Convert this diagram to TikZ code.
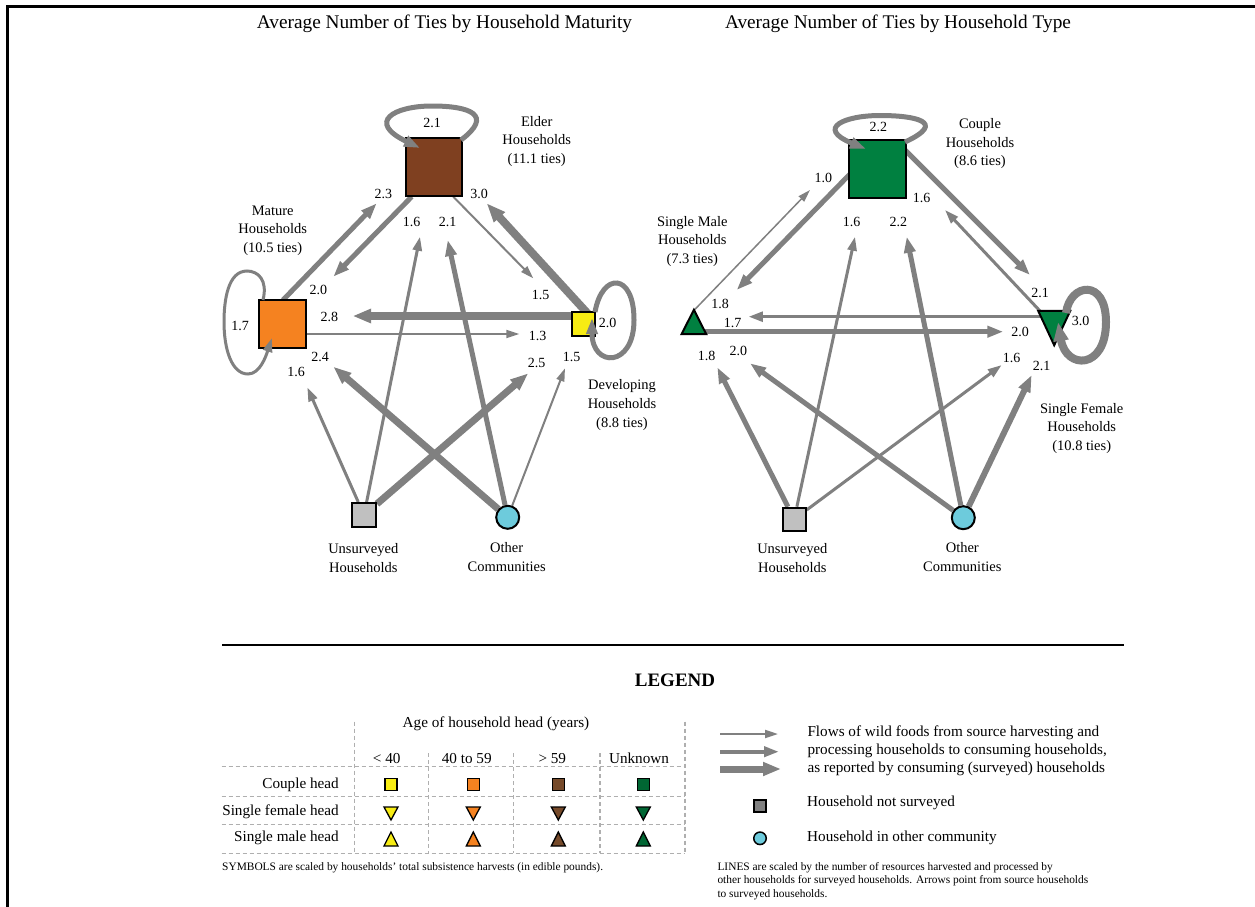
\documentclass[tikz,border=0pt]{standalone}
\usepackage{fontspec}
\setmainfont{Liberation Serif}
\usetikzlibrary{arrows.meta}
\definecolor{eg}{RGB}{128,128,128}
\definecolor{lg}{RGB}{175,175,175}
\definecolor{cBrown}{RGB}{127,64,32}
\definecolor{cOrange}{RGB}{245,130,32}
\definecolor{cYel}{RGB}{247,236,19}
\definecolor{cGreen}{RGB}{0,128,64}
\definecolor{cGray}{RGB}{192,192,192}
\definecolor{cCyan}{RGB}{109,203,220}
\definecolor{lBrown}{RGB}{118,74,42}
\definecolor{lGreen}{RGB}{0,102,51}
\definecolor{lGray}{RGB}{128,128,128}
\pgfdeclarelayer{bg}
\pgfdeclarelayer{paper}
\pgfsetlayers{paper,bg,main}
\begin{document}
\begin{tikzpicture}[x=1pt,y=-1pt,
  flow/.style={draw=eg, line width=#1, -{Triangle[length=11pt 1,width=6pt 1]}},
  num/.style={inner sep=0pt, font=\fontsize{14}{16}\selectfont},
  grp/.style={inner sep=0pt, align=center, font=\fontsize{14.5}{18.7}\selectfont},
  hsq/.style={draw=black, line width=2pt, inner sep=0pt},
  leg/.style={inner sep=0pt, font=\fontsize{15.2}{18.2}\selectfont},
  note/.style={inner sep=0pt, font=\fontsize{11.4}{13.4}\selectfont, align=left},
  dsh/.style={draw=lg, line width=1.5pt, dash pattern=on 4pt off 3pt},
  ttl/.style={inner sep=0pt, font=\fontsize{19.3}{22}\selectfont},
  pics/lsq/.style={code={\filldraw[fill=#1,line width=1.3pt] (-6,-6) rectangle (6,6);}},
  pics/ltd/.style={code={\filldraw[fill=#1,line width=1.3pt] (-7,-6) -- (7,-6) -- (0,7) -- cycle;}},
  pics/ltu/.style={code={\filldraw[fill=#1,line width=1.3pt] (-7,7) -- (7,7) -- (0,-7) -- cycle;}},
]
\useasboundingbox (0,0) rectangle (1255,907);
\begin{pgfonlayer}{paper}
\fill[white] (0,0) rectangle (1255,907);
\end{pgfonlayer}
% frame
\draw[line width=3pt] (7.5,910) -- (7.5,6.5) -- (1260,6.5);

% titles
\node[ttl] (t1) at (444.5,24) {Average Number of Ties by Household Maturity};
\node[ttl] (t2) at (898,24) {Average Number of Ties by Household Type};

%================ LEFT DIAGRAM ================
\node[hsq, fill=cBrown, minimum width=56pt, minimum height=58pt] (eld) at (433.5,167) {};
\node[hsq, fill=cOrange, minimum width=47pt, minimum height=48pt] (mat) at (282.5,324) {};
\node[hsq, fill=cYel, minimum width=23.3pt, minimum height=24pt] (dev) at (583.3,323.7) {};
\node[hsq, fill=cGray, minimum size=24pt] (uns) at (364,515) {};
\node[circle, draw=black, line width=2pt, fill=cCyan, minimum size=23pt, inner sep=0pt] (oth) at (507.7,517.3) {};

\node[grp] (gEld) at (536.7,141.5) {Elder\\Households\\(11.1 ties)};
\node[grp] (gMat) at (272.7,230.5) {Mature\\Households\\(10.5 ties)};
\node[grp] (gDev) at (622,405) {Developing\\Households\\(8.8 ties)};
\node[grp] (gUns) at (363.3,558) {Unsurveyed\\Households};
\node[grp] (gOth) at (506.7,557) {Other\\Communities};

\node[num] (n1) at (432,123) {2.1};
\node[num] (n2) at (383.3,194.3) {2.3};
\node[num] (n3) at (479,194.3) {3.0};
\node[num] (n4) at (411.7,221.7) {1.6};
\node[num] (n5) at (447.7,221.7) {2.1};
\node[num] (n6) at (318.3,290) {2.0};
\node[num] (n7) at (240,325.7) {1.7};
\node[num] (n8) at (329.3,316.7) {2.8};
\node[num] (n9) at (537.7,335.7) {1.3};
\node[num] (n10) at (540.7,295) {1.5};
\node[num] (n11) at (607.7,323.3) {2.0};
\node[num] (n12) at (320,357.3) {2.4};
\node[num] (n13) at (296,371.7) {1.6};
\node[num] (n14) at (536.7,363.3) {2.5};
\node[num] (n15) at (571.7,357.3) {1.5};

\coordinate (a1) at (307.3,387.3);
\coordinate (a2) at (420,236.7);
\coordinate (a3) at (528.3,373.3);
\coordinate (a4) at (333.3,366.7);
\coordinate (a5) at (447.7,240);
\coordinate (a6) at (565,368.3);
\coordinate (s7) at (583,316);   \coordinate (a7) at (352.7,316);
\coordinate (s8) at (290,334);   \coordinate (a8) at (519.3,334);
\coordinate (s9) at (411.7,196.7); \coordinate (a9) at (333.3,276.7);
\coordinate (s10) at (283,300);  \coordinate (a10) at (376.7,203.3);
\coordinate (s11) at (453.3,196.7); \coordinate (a11) at (533.3,278.3);
\coordinate (s12) at (590,316);  \coordinate (a12) at (486.7,203.3);

\begin{pgfonlayer}{bg}
\draw[flow=3pt] (uns) -- (a1);
\draw[flow=3pt] (uns) -- (a2);
\draw[flow=7pt] (uns) -- (a3);
\draw[flow=7pt] (oth) -- (a4);
\draw[flow=5pt] (oth) -- (a5);
\draw[flow=2pt] (oth) -- (a6);
\draw[flow=7.5pt] (s7) -- (a7);
\draw[flow=2pt] (s8) -- (a8);
\draw[flow=5pt] (s9) -- (a9);
\draw[flow=5pt] (s10) -- (a10);
\draw[flow=2pt] (s11) -- (a11);
\draw[flow=8pt] (s12) -- (a12);
\end{pgfonlayer}

% loops
\draw[flow=5pt] (461,140) .. controls (494,115) and (470,106) .. (432,106) .. controls (394,106) and (366,122) .. (420,148);
\draw[flow=3pt] (263,300) .. controls (268,280) and (258,271) .. (247,271) .. controls (228,271) and (224,300) .. (224,322) .. controls (224,350) and (232,374) .. (248,374) .. controls (260,374) and (266,356) .. (272,338);
\draw[flow=5pt] (595,312) .. controls (602,272) and (634,272) .. (634,320) .. controls (634,368) and (592,368) .. (592,318);

%================ RIGHT DIAGRAM ================
\node[hsq, fill=cGreen, minimum width=56.4pt, minimum height=57.7pt] (cpl) at (877.5,169) {};
\node[hsq, fill=cGray, minimum size=23pt] (uns2) at (794.2,519.2) {};
\node[circle, draw=black, line width=2pt, fill=cCyan, minimum size=23pt, inner sep=0pt] (oth2) at (963.3,517.7) {};
\node[inner sep=0pt, minimum width=24.3pt, minimum height=24pt] (male) at (693.9,322) {};
\node[inner sep=0pt, minimum width=31.7pt, minimum height=34pt] (fem) at (1054.2,328) {};
\filldraw[fill=cGreen, line width=2pt, line join=miter] (male.south west) -- (male.south east) -- (male.north) -- cycle;
\filldraw[fill=cGreen, line width=2pt, line join=miter] (fem.north west) -- (fem.north east) -- (fem.south) -- cycle;

\node[grp] (gCpl) at (980,143.7) {Couple\\Households\\(8.6 ties)};
\node[grp] (gMale) at (692.3,241.3) {Single Male\\Households\\(7.3 ties)};
\node[grp] (gFem) at (1081.7,428.5) {Single Female\\Households\\(10.8 ties)};
\node[grp] (gUns2) at (792.3,558.3) {Unsurveyed\\Households};
\node[grp] (gOth2) at (962.3,557.2) {Other\\Communities};

\node[num] (m1) at (878.3,126.7) {2.2};
\node[num] (m2) at (823.3,178.3) {1.0};
\node[num] (m3) at (921.7,197.7) {1.6};
\node[num] (m4) at (851.7,221.7) {1.6};
\node[num] (m5) at (898.3,221.7) {2.2};
\node[num] (m6) at (720,304) {1.8};
\node[num] (m7) at (732.7,322.7) {1.7};
\node[num] (m8) at (706.7,356) {1.8};
\node[num] (m9) at (738.3,351) {2.0};
\node[num] (m10) at (1040,292.7) {2.1};
\node[num] (m11) at (1080.7,320.7) {3.0};
\node[num] (m12) at (1020,331.7) {2.0};
\node[num] (m13) at (1011.7,358.3) {1.6};
\node[num] (m14) at (1041.7,366) {2.1};

\coordinate (b1) at (717.3,367.3);
\coordinate (b2) at (855,236.7);
\coordinate (b3) at (1001.7,365);
\coordinate (b4) at (750,363.3);
\coordinate (b5) at (906.7,236.7);
\coordinate (b6) at (1031.7,375);
\coordinate (r7) at (1040,316.7); \coordinate (b7) at (748.3,316.7);
\coordinate (r8) at (700,331.7);  \coordinate (b8) at (1003.3,331.7);
\coordinate (r9) at (852,172);    \coordinate (b9) at (736.7,290);
\coordinate (r10) at (695,309.3); \coordinate (b10) at (810,190);
\coordinate (r11) at (904,149);   \coordinate (b11) at (1030,275);
\coordinate (r12) at (1040,311);  \coordinate (b12) at (945,210);

\begin{pgfonlayer}{bg}
\draw[flow=5pt] (uns2) -- (b1);
\draw[flow=3pt] (uns2) -- (b2);
\draw[flow=3pt] (uns2) -- (b3);
\draw[flow=5pt] (oth2) -- (b4);
\draw[flow=5pt] (oth2) -- (b5);
\draw[flow=6pt] (oth2) -- (b6);
\draw[flow=3.5pt] (r7) -- (b7);
\draw[flow=5pt] (r8) -- (b8);
\draw[flow=5pt] (r9) -- (b9);
\draw[flow=1.5pt] (r10) -- (b10);
\draw[flow=5pt] (r11) -- (b11);
\draw[flow=3pt] (r12) -- (b12);
\end{pgfonlayer}

\draw[flow=5pt] (905,142) .. controls (948,122) and (915,115.5) .. (880,115.5) .. controls (845,115.5) and (815,128) .. (866,149);
\draw[flow=8pt] (1066,313) .. controls (1070,283) and (1106,278) .. (1106,322) .. controls (1106,370) and (1066,370) .. (1058,322);

%================ LEGEND ================
\draw[line width=2pt] (222,645) -- (1124,645);
\node[inner sep=0pt, font=\fontsize{19}{22}\selectfont\bfseries] (lgT) at (675,680) {LEGEND};

\draw[dsh] (354.3,721.7) -- (354.3,853.3);
\draw[dsh] (428.3,753) -- (428.3,853.3);
\draw[dsh] (513.3,753) -- (513.3,853.3);
\draw[dsh] (600,753) -- (600,853.3);
\draw[dsh] (685,721.7) -- (685,853.3);
\draw[dsh] (221.7,766.7) -- (685,766.7);
\draw[dsh] (221.7,796.7) -- (685,796.7);
\draw[dsh] (221.7,824.3) -- (685,824.3);
\draw[dsh] (221.7,853.3) -- (685,853.3);

\node[leg] (lAge) at (496,724) {Age of household head (years)};
\node[leg] (h1) at (386.7,758.3) {< 40};
\node[leg] (h2) at (466.7,758.3) {40 to 59};
\node[leg] (h3) at (552.3,758.3) {> 59};
\node[leg] (h4) at (639,758.3) {Unknown};
\node[leg, anchor=east] (rw1) at (339,785) {Couple head};
\node[leg, anchor=east] (rw2) at (339,811.7) {Single female head};
\node[leg, anchor=east] (rw3) at (339,838.3) {Single male head};

\pic at (391,784.3) {lsq=cYel};
\pic at (473.3,784.3) {lsq=cOrange};
\pic at (558.3,784.3) {lsq=lBrown};
\pic at (643.3,784.3) {lsq=lGreen};
\pic at (391,813) {ltd=cYel};
\pic at (473.3,813) {ltd=cOrange};
\pic at (558.3,813) {ltd=lBrown};
\pic at (643.3,813) {ltd=lGreen};
\pic at (391,839) {ltu=cYel};
\pic at (473.3,839) {ltu=cOrange};
\pic at (558.3,839) {ltu=lBrown};
\pic at (643.3,839) {ltu=lGreen};

\node[note, anchor=west] (sym) at (222,868) {SYMBOLS are scaled by households’ total subsistence harvests (in edible pounds).};

\coordinate (la1) at (720,734);   \coordinate (lb1) at (778,734);
\coordinate (la2) at (720,751.7); \coordinate (lb2) at (779,751.7);
\coordinate (la3) at (720,769);   \coordinate (lb3) at (781,769);
\draw[flow=2pt] (la1) -- (lb1);
\draw[flow=4pt] (la2) -- (lb2);
\draw[flow=7pt] (la3) -- (lb3);
\node[leg, anchor=west, align=left] (flw) at (807.3,750.7) {Flows of wild foods from source harvesting and\\processing households to consuming households,\\as reported by consuming (surveyed) households};

\node[draw=black, line width=1.5pt, fill=lGray, minimum size=12pt, inner sep=0pt] (lsqN) at (760,806) {};
\node[leg, anchor=west] (lns) at (807,803.3) {Household not surveyed};
\node[circle, draw=black, line width=1.5pt, fill=cCyan, minimum size=12.5pt, inner sep=0pt] (lcirc) at (760,838.3) {};
\node[leg, anchor=west] (loc) at (807,838) {Household in other community};

\node[note, anchor=north west] (lines) at (717.3,862) {LINES are scaled by the number of resources harvested and processed by\\other households for surveyed households. Arrows point from source households\\to surveyed households.};
\end{tikzpicture}
\end{document}
